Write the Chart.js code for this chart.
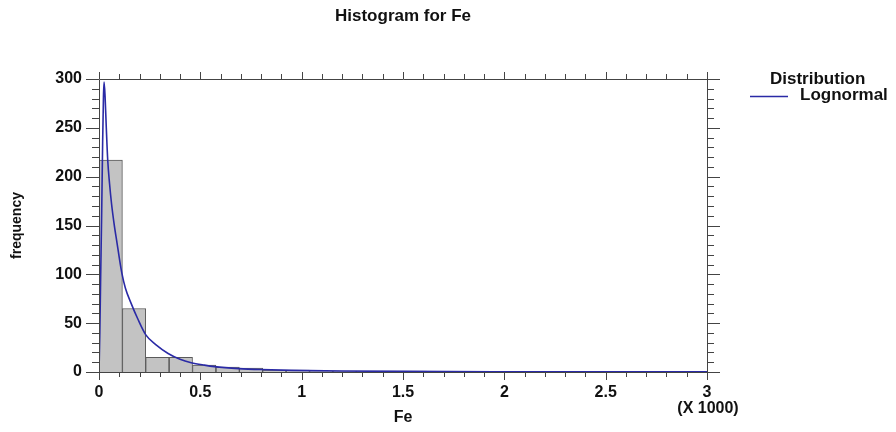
<!DOCTYPE html>
<html>
<head>
<meta charset="utf-8">
<title>Histogram for Fe</title>
<script src="https://cdn.jsdelivr.net/npm/chart.js@4.4.1/dist/chart.umd.min.js"></script>
<style>
  html, body { margin: 0; padding: 0; background: #fff; }
</style>
</head>
<body>
<canvas id="histChart" width="896" height="432"></canvas>
<script>
// class midpoints (Fe, X 1000) and the counts
const binCenters = [0.058, 0.173, 0.288, 0.404, 0.519, 0.635, 0.750, 0.865, 0.981, 1.096, 1.212, 1.327, 1.442, 1.558];
const binCounts  = [217, 65, 15, 15, 7, 5, 4, 2, 2, 1, 1, 1, 1, 1];

// fitted lognormal curve
const curveX = [0, 0.004, 0.008, 0.013, 0.018, 0.022, 0.025, 0.030, 0.036, 0.043, 0.052, 0.062,
                0.075, 0.089, 0.100, 0.113, 0.130, 0.159, 0.190, 0.231, 0.280, 0.341, 0.400,
                0.455, 0.520, 0.570, 0.690, 0.800, 0.950, 1.200, 1.500, 2.000, 2.500, 3.000];
const curveY = [0, 40, 95, 160, 235, 282, 297, 282, 250, 217, 193, 172,
                151, 132, 117, 101, 86, 70, 55, 38, 28, 19, 13,
                9.5, 7, 5.5, 3.5, 2.5, 1.7, 1.0, 0.6, 0.3, 0.2, 0.1];

const xTicks = [0, 0.5, 1, 1.5, 2, 2.5, 3];
const yTicks = [0, 50, 100, 150, 200, 250, 300];

const FONT = 'Liberation Sans, Arial, sans-serif';
const INK = '#111';
const FRAME = '#444';
const CURVE = '#2a2aa6';

/* --- frame with ticks on all four sides --- */
const frameTicks = {
    id: 'frameTicks',
    afterDatasetsDraw(chart) {
        const { ctx, chartArea: a, scales: { x, y } } = chart;
        ctx.save();
        ctx.strokeStyle = FRAME;
        ctx.lineWidth = 1;
        ctx.beginPath();
        ctx.rect(a.left + 0.5, a.top + 0.5, a.right - a.left, a.bottom - a.top);
        // minor every 0.1, major every 0.5
        for (let i = 0; i <= 30; i++) {
            const px = Math.round(x.getPixelForValue(i / 10)) + 0.5;
            const len = i % 5 === 0 ? 8 : 5;
            ctx.moveTo(px, a.bottom); ctx.lineTo(px, a.bottom + len);
            ctx.moveTo(px, a.top); ctx.lineTo(px, a.top - (i % 5 === 0 ? 7 : 5));
        }
        // minor every 10, major every 50
        for (let v = 0; v <= 300; v += 10) {
            const py = Math.round(y.getPixelForValue(v)) + 0.5;
            const len = v % 50 === 0 ? 13 : 7;
            ctx.moveTo(a.left, py); ctx.lineTo(a.left - len, py);
            ctx.moveTo(a.right, py); ctx.lineTo(a.right + len, py);
        }
        ctx.stroke();
        ctx.restore();
    }
};

/* --- legend block and axis multiplier --- */
const sideNotes = {
    id: 'sideNotes',
    afterDraw(chart) {
        const { ctx, chartArea: a } = chart;
        ctx.save();
        ctx.fillStyle = INK;
        ctx.textBaseline = 'middle';
        ctx.font = `bold 17px ${FONT}`;
        ctx.textAlign = 'left';
        ctx.fillText('Distribution', 770, 79);
        ctx.fillText(chart.data.datasets[0].label, 800, 95);
        ctx.strokeStyle = chart.data.datasets[0].borderColor;
        ctx.lineWidth = 1.5;
        ctx.beginPath();
        ctx.moveTo(750, 96.5); ctx.lineTo(788, 96.5);
        ctx.stroke();
        ctx.font = `bold 16px ${FONT}`;
        ctx.textAlign = 'center';
        ctx.fillText('(X 1000)', a.right + 1, 409);
        ctx.restore();
    }
};

new Chart(document.getElementById('histChart').getContext('2d'), {
    data: {
        datasets: [
            {
                type: 'line',
                label: 'Lognormal',
                data: curveX.map((v, i) => ({ x: v, y: curveY[i] })),
                borderColor: CURVE,
                borderWidth: 1.6,
                pointRadius: 0,
                cubicInterpolationMode: 'monotone',
                order: 0
            },
            {
                type: 'bar',
                label: 'Fe',
                data: binCenters.map((v, i) => ({ x: v, y: binCounts[i] })),
                backgroundColor: '#c3c3c3',
                borderColor: '#5a5a5a',
                borderWidth: 1,
                barPercentage: 1,
                categoryPercentage: 1,
                order: 1
            }
        ]
    },
    options: {
        responsive: false,
        animation: false,
        layout: { padding: { right: 189 } },
        plugins: {
            legend: { display: false },
            tooltip: { enabled: false },
            title: {
                display: true,
                text: 'Histogram for Fe',
                color: INK,
                fullSize: false,
                font: { family: FONT, size: 17, weight: 'bold' },
                padding: { top: 6, bottom: 52.6 }
            }
        },
        scales: {
            x: {
                type: 'linear',
                min: 0,
                max: 3,
                offset: false,
                grid: { display: false },
                border: { display: false },
                afterBuildTicks: s => { s.ticks = xTicks.map(v => ({ value: v })); },
                ticks: {
                    padding: 3,
                    color: INK,
                    maxRotation: 0,
                    callback: v => String(v),
                    font: { family: FONT, size: 16, weight: 'bold' }
                },
                title: {
                    display: true,
                    text: 'Fe',
                    color: INK,
                    font: { family: FONT, size: 16, weight: 'bold' },
                    padding: { top: 0, bottom: 5 }
                },
                afterFit: s => { s.height = 60; }
            },
            y: {
                type: 'linear',
                min: 0,
                max: 300,
                grid: { display: false },
                border: { display: false },
                afterBuildTicks: s => { s.ticks = yTicks.map(v => ({ value: v })); },
                ticks: {
                    padding: 9,
                    color: INK,
                    font: { family: FONT, size: 16, weight: 'bold' }
                },
                title: {
                    display: true,
                    text: 'frequency',
                    color: INK,
                    font: { family: FONT, size: 14, weight: 'bold' },
                    padding: { top: 9, bottom: 0 }
                },
                afterFit: s => { s.width = 99; }
            }
        }
    },
    plugins: [frameTicks, sideNotes]
});
</script>
</body>
</html>
